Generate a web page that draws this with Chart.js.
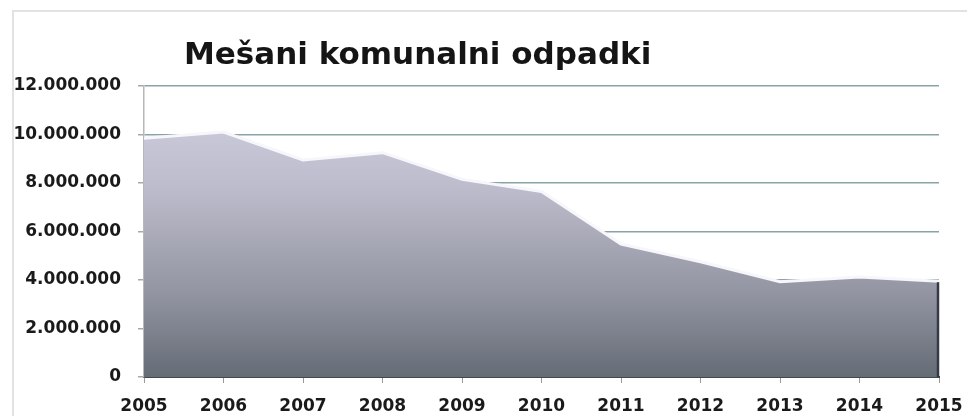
<!DOCTYPE html>
<html>
<head>
<meta charset="utf-8">
<script src="https://cdn.jsdelivr.net/npm/chart.js@4/dist/chart.umd.min.js"></script>
<style>
  body { margin: 0; background: #fff; }
  #wrap { position: relative; width: 967px; height: 416px; }
  #frame { position: absolute; left: 12px; top: 10px; right: 0; bottom: 0;
           border-top: 2px solid #e2e2e2; border-left: 2px solid #e2e2e2; pointer-events: none; }
</style>
</head>
<body>
<div id="wrap">
  <canvas id="chart"></canvas>
  <div id="frame"></div>
</div>
<script>
const title = 'Mešani komunalni odpadki';
const years = ['2005', '2006', '2007', '2008', '2009', '2010', '2011', '2012', '2013', '2014', '2015'];
const odpadki = [9850000, 10100000, 8950000, 9250000, 8150000, 7650000, 5480000, 4750000, 3930000, 4120000, 3950000];
const yMax = 12000000;
const yStep = 2000000;

Chart.defaults.font.family = '"DejaVu Sans", Verdana, sans-serif';

function dots(v) {
    return String(v).replace(/\B(?=(\d{3})+(?!\d))/g, '.');
}

// naslov, poravnan levo kot v originalu
const titlePlugin = {
    id: 'titlePlugin',
    afterDraw(chart) {
        const ctx = chart.ctx;
        ctx.save();
        ctx.font = 'bold 31px "DejaVu Sans"';
        ctx.fillStyle = '#151515';
        ctx.textBaseline = 'alphabetic';
        ctx.fillText(title, 184, 64);
        ctx.restore();
    }
};

// temen desni rob ploskve (3D videz)
const edgePlugin = {
    id: 'edgePlugin',
    afterDatasetsDraw(chart) {
        const pts = chart.getDatasetMeta(0).data;
        const last = pts[pts.length - 1];
        const ctx = chart.ctx;
        ctx.save();
        ctx.strokeStyle = '#343b46';
        ctx.lineWidth = 2.5;
        ctx.beginPath();
        ctx.moveTo(last.x - 1, last.y + 1);
        ctx.lineTo(last.x - 1, chart.chartArea.bottom);
        ctx.stroke();
        ctx.restore();
    }
};

const ctx = document.getElementById('chart').getContext('2d');
const chart = new Chart(ctx, {
    type: 'line',
    data: {
        labels: years,
        datasets: [{
            label: title,
            data: odpadki,
            fill: 'origin',
            tension: 0,
            pointRadius: 0,
            borderColor: '#f6f6fb',
            borderWidth: 3,
            backgroundColor(c) {
                const area = c.chart.chartArea;
                if (!area) return '#a0a2b0';
                const g = c.chart.ctx.createLinearGradient(0, area.top, 0, area.bottom);
                g.addColorStop(0, '#d2d1e1');
                g.addColorStop(0.35, '#bdbccc');
                g.addColorStop(0.7, '#9496a3');
                g.addColorStop(1, '#656c76');
                return g;
            }
        }]
    },
    options: {
        responsive: true,
        maintainAspectRatio: false,
        animation: false,
        layout: { padding: { top: 86, right: 28, bottom: 0, left: 0 } },
        plugins: { legend: { display: false }, tooltip: { enabled: false } },
        scales: {
            x: {
                z: 1,
                offset: false,
                grid: { display: true, drawOnChartArea: false, tickLength: 6, color: '#9a9a9a', tickColor: '#9a9a9a' },
                border: { display: true, color: '#3c4a4c', width: 2 },
                ticks: { color: '#1a1a1a', font: { size: 17, weight: 'bold' }, padding: 13, maxRotation: 0, autoSkip: false },
                afterFit(s) { s.height = 39; s.paddingLeft = 0; s.paddingRight = 0; }
            },
            y: {
                min: 0,
                max: yMax,
                grid: { color: '#8aa3a6', lineWidth: 1.5, tickLength: 6, tickColor: '#a8a8a8' },
                border: { display: true, color: '#b8b8b8', width: 1.5 },
                ticks: { stepSize: yStep, color: '#1a1a1a', font: { size: 17, weight: 'bold' }, padding: 17, callback: v => dots(v) },
                afterFit(s) { s.width = 144; }
            }
        }
    },
    plugins: [titlePlugin, edgePlugin]
});
</script>
</body>
</html>
